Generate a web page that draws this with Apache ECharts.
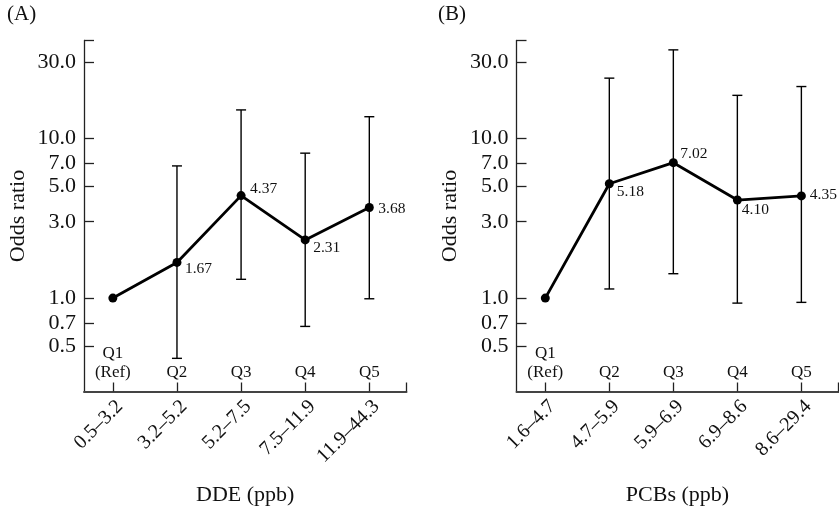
<!DOCTYPE html>
<html>
<head>
<meta charset="utf-8">
<script src="https://cdn.jsdelivr.net/npm/echarts@6/dist/echarts.min.js"></script>
<style>
  html, body { margin: 0; padding: 0; background: #fff; }
  #chart { width: 839px; height: 508px; }
</style>
</head>
<body>
<div id="chart"></div>
<script>
// Quintile groups and their exposure ranges
const quintiles = ['Q1\n(Ref)', 'Q2', 'Q3', 'Q4', 'Q5'];
const ddeRanges = ['0.5–3.2', '3.2–5.2', '5.2–7.5', '7.5–11.9', '11.9–44.3'];
const pcbRanges = ['1.6–4.7', '4.7–5.9', '5.9–6.9', '6.9–8.6', '8.6–29.4'];

// Odds ratios with 95% confidence limits (Q1 is the reference group)
const ddeOR    = [1.00, 1.67, 4.37, 2.31, 3.68];
const ddeLower = [null, 0.42, 1.31, 0.665, 0.99];
const ddeUpper = [null, 6.7, 15.0, 8.05, 13.6];

const pcbOR    = [1.00, 5.18, 7.02, 4.10, 4.35];
const pcbLower = [null, 1.14, 1.42, 0.93, 0.94];
const pcbUpper = [null, 23.7, 35.6, 18.5, 21.0];

// Odds-ratio axis ticks (log scale)
const oddsTicks = [0.5, 0.7, 1, 3, 5, 7, 10, 30];
const oddsTickLabels = ['0.5', '0.7', '1.0', '3.0', '5.0', '7.0', '10.0', '30.0'];

const FONT = '"Liberation Serif", "DejaVu Serif", serif';
const INK = '#111';
const log10 = Math.log10;

// log-scale extent of the odds-ratio axis
const Y_MIN = -0.584;
const Y_MAX = 1.61;
const X_MIN = -0.45;
const X_MAX = 4.58;

// per-point nudges of the value labels [dx, dy]
const ddeLabelNudge = [null, [3.5, 6], [4.5, -6.5], [3.5, 8], [4.5, 1.5]];
const pcbLabelNudge = [null, [3, 8], [2.5, -9], [0, 10], [4, -1]];

function tickLabel(v) {
  let best = 0, bd = Infinity;
  oddsTicks.forEach((t, i) => {
    const d = Math.abs(log10(t) - v);
    if (d < bd) { bd = d; best = i; }
  });
  return bd < 1e-6 ? oddsTickLabels[best] : '';
}

function yAxis(gridIndex) {
  return {
    type: 'value', gridIndex, min: Y_MIN, max: Y_MAX,
    name: 'Odds ratio', nameLocation: 'middle', nameGap: 55,
    nameTextStyle: { fontFamily: FONT, fontSize: 22, color: INK },
    axisLine: { show: true, onZero: false, lineStyle: { color: '#222', width: 1.3 } },
    axisTick: {
      show: true, inside: true, length: 10,
      customValues: oddsTicks.map(log10).concat([Y_MAX]),
      lineStyle: { color: '#222', width: 1.3 }
    },
    axisLabel: {
      margin: 8, fontFamily: FONT, fontSize: 22, color: INK,
      customValues: oddsTicks.map(log10),
      formatter: tickLabel
    },
    splitLine: { show: false }
  };
}

function rangeAxis(gridIndex, ranges, title) {
  return {
    type: 'value', gridIndex, position: 'bottom', min: X_MIN, max: X_MAX,
    name: title, nameLocation: 'middle', nameGap: 93,
    nameTextStyle: { fontFamily: FONT, fontSize: 22, color: INK },
    axisLine: { show: true, onZero: false, lineStyle: { color: '#444', width: 2 } },
    axisTick: {
      show: true, inside: true, length: 9,
      customValues: [0, 1, 2, 3, 4, X_MAX],
      lineStyle: { color: '#222', width: 1.3 }
    },
    axisLabel: {
      rotate: 45, margin: 5, verticalAlign: 'top',
      fontFamily: FONT, fontSize: 20, color: INK,
      customValues: [0, 1, 2, 3, 4],
      formatter: v => ranges[Math.round(v)]
    },
    splitLine: { show: false }
  };
}

function quintileAxis(gridIndex) {
  return {
    type: 'value', gridIndex, position: 'bottom', min: X_MIN, max: X_MAX,
    axisLine: { show: false, onZero: false },
    axisTick: { show: false },
    axisLabel: {
      inside: true, margin: 9, fontFamily: FONT, fontSize: 17, color: INK,
      lineHeight: 19,
      customValues: [0, 1, 2, 3, 4],
      formatter: v => quintiles[Math.round(v)]
    },
    splitLine: { show: false }
  };
}

function lineSeries(axisIndex, ors, nudges) {
  return {
    type: 'line', xAxisIndex: axisIndex, yAxisIndex: axisIndex / 2, z: 3,
    symbol: 'circle', symbolSize: 9,
    itemStyle: { color: '#000' },
    lineStyle: { color: '#000', width: 2.8 },
    data: ors.map((v, i) => {
      const d = { value: [i, log10(v)] };
      if (nudges[i]) {
        d.label = {
          show: true, position: 'right', distance: 0, offset: nudges[i],
          formatter: () => v.toFixed(2)
        };
      }
      return d;
    }),
    label: { show: false, fontFamily: FONT, fontSize: 15.5, color: INK },
    animation: false
  };
}

function errorSeries(axisIndex, lower, upper) {
  const data = [];
  lower.forEach((lo, i) => {
    if (lo != null) data.push([i, log10(lo), log10(upper[i])]);
  });
  return {
    type: 'custom', xAxisIndex: axisIndex, yAxisIndex: axisIndex / 2, z: 2,
    data,
    encode: { x: 0, y: [1, 2] },
    renderItem: (params, api) => {
      const x = api.value(0);
      const lo = api.coord([x, api.value(1)]);
      const hi = api.coord([x, api.value(2)]);
      const hw = 5;
      const style = { stroke: '#000', lineWidth: 1.4 };
      return {
        type: 'group',
        children: [
          { type: 'line', shape: { x1: lo[0], y1: lo[1], x2: hi[0], y2: hi[1] }, style },
          { type: 'line', shape: { x1: hi[0] - hw, y1: hi[1], x2: hi[0] + hw, y2: hi[1] }, style },
          { type: 'line', shape: { x1: lo[0] - hw, y1: lo[1], x2: lo[0] + hw, y2: lo[1] }, style }
        ]
      };
    },
    animation: false
  };
}

const chart = echarts.init(document.getElementById('chart'), null, { renderer: 'canvas' });
chart.setOption({
  backgroundColor: '#fff',
  animation: false,
  textStyle: { fontFamily: FONT },
  grid: [
    { left: 84, top: 40.5, width: 322.5, height: 351, containLabel: false, outerBoundsMode: 'none' },
    { left: 516.5, top: 40.5, width: 322, height: 351, containLabel: false, outerBoundsMode: 'none' }
  ],
  xAxis: [
    rangeAxis(0, ddeRanges, 'DDE (ppb)'),
    quintileAxis(0),
    rangeAxis(1, pcbRanges, 'PCBs (ppb)'),
    quintileAxis(1)
  ],
  yAxis: [yAxis(0), yAxis(1)],
  graphic: [
    { type: 'text', left: 7, top: 4, style: { text: '(A)', font: '21px ' + FONT, fill: INK } },
    { type: 'text', left: 438, top: 4, style: { text: '(B)', font: '21px ' + FONT, fill: INK } }
  ],
  series: [
    errorSeries(0, ddeLower, ddeUpper),
    lineSeries(0, ddeOR, ddeLabelNudge),
    errorSeries(2, pcbLower, pcbUpper),
    lineSeries(2, pcbOR, pcbLabelNudge)
  ]
});
</script>
</body>
</html>
